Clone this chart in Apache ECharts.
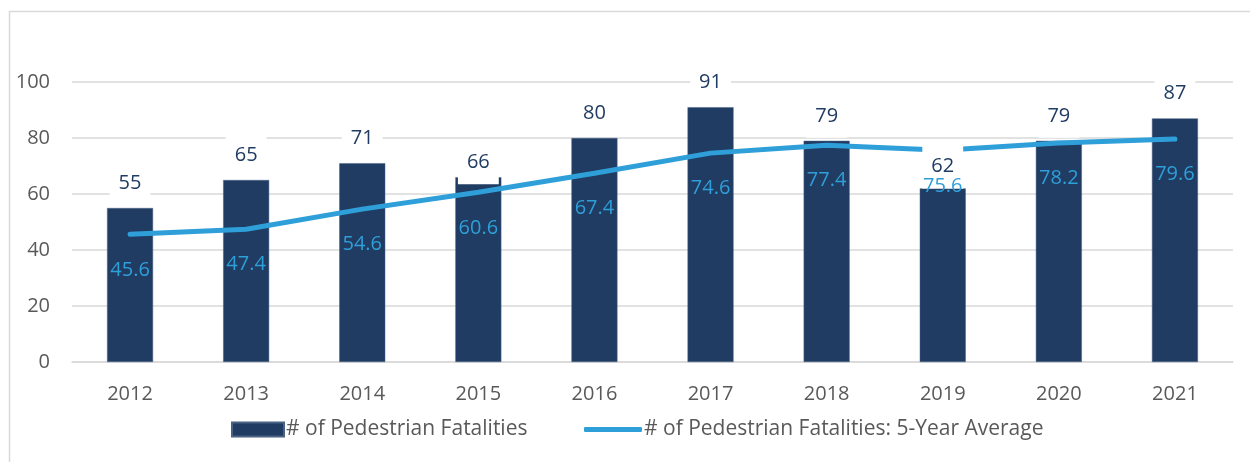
<!DOCTYPE html>
<html>
<head>
<meta charset="utf-8">
<script src="https://cdn.jsdelivr.net/npm/echarts@6/dist/echarts.min.js"></script>
<style>
  html, body { margin: 0; padding: 0; background: #fff; }
  #chart { width: 1250px; height: 462px; }
</style>
</head>
<body>
<div id="chart"></div>
<script>
var years = ['2012', '2013', '2014', '2015', '2016', '2017', '2018', '2019', '2020', '2021'];
var fatalities = [55, 65, 71, 66, 80, 91, 79, 62, 79, 87];
var fiveYearAvg = [45.6, 47.4, 54.6, 60.6, 67.4, 74.6, 77.4, 75.6, 78.2, 79.6];
var yTicks = [0, 20, 40, 60, 80, 100];

var FONT = '"Open Sans", sans-serif';
var NAVY = '#203c63';
var BLUE = '#2e9fd8';
var GREY = '#595959';
var BAR_NAME = '# of Pedestrian Fatalities';
var LINE_NAME = '# of Pedestrian Fatalities: 5-Year Average';

// labels that sit lower than the default (Excel nudged them)
var labelNudge = { '2015': 10, '2019': 3 };
var barLabelData = fatalities.map(function (v, i) {
  var dy = labelNudge[years[i]] || 0;
  return dy ? { value: v, label: { offset: [0, dy] } } : v;
});

var c = echarts.init(document.getElementById('chart'), null, { renderer: 'canvas' });
c.setOption({
  animation: false,
  textStyle: { fontFamily: FONT },
  graphic: [{
    type: 'rect', left: 7, top: 9, silent: true, z: -1,
    shape: { width: 1260, height: 470 },
    style: { fill: 'none', stroke: '#d9d9d9', lineWidth: 1.5 }
  }],
  grid: { left: 72, right: 17, top: 82, bottom: 100 },
  legend: [{
    data: [{ name: BAR_NAME, icon: 'rect' }],
    left: 226, top: 414, itemWidth: 52, itemHeight: 14,
    textStyle: { color: GREY, fontSize: 21, fontFamily: FONT, padding: [0, 0, 0, -3] }
  }, {
    data: [{ name: LINE_NAME, icon: 'roundRect' }],
    left: 579, top: 414, itemWidth: 58, itemHeight: 5,
    textStyle: { color: GREY, fontSize: 21, fontFamily: FONT, padding: [0, 0, 0, -3] }
  }],
  xAxis: {
    type: 'category', data: years,
    axisLine: { lineStyle: { color: '#d9d9d9', width: 1.5 } },
    axisTick: { show: false },
    axisLabel: { color: GREY, fontSize: 20, margin: 22 }
  },
  yAxis: {
    type: 'value', min: yTicks[0], max: yTicks[yTicks.length - 1], interval: 20,
    axisLine: { show: false }, axisTick: { show: false },
    splitLine: { lineStyle: { color: '#d9d9d9', width: 1.5 } },
    axisLabel: { color: GREY, fontSize: 20, margin: 22 }
  },
  series: [
    {
      name: BAR_NAME, type: 'bar', data: fatalities, z: 2,
      barWidth: 46,
      itemStyle: { color: NAVY, borderColor: '#4a6384', borderWidth: 0.5 }
    },
    {
      name: LINE_NAME, type: 'line', data: fiveYearAvg, z: 3,
      symbol: 'none', lineStyle: { color: BLUE, width: 5, cap: 'round' },
      itemStyle: { color: BLUE }
    },
    {
      // bar value labels with white boxes, drawn over the line
      name: 'barLabels', type: 'bar', data: barLabelData, z: 4, barWidth: 46, barGap: '-100%',
      itemStyle: { color: 'rgba(0,0,0,0)' }, silent: true,
      label: {
        show: true, position: 'top', distance: 3, color: NAVY, fontSize: 20, fontFamily: FONT,
        lineHeight: 24, backgroundColor: '#fff', padding: [10, 9]
      }
    },
    {
      // average value labels, on top of everything
      name: 'lineLabels', type: 'line', data: fiveYearAvg, z: 5, symbol: 'circle', symbolSize: 1,
      lineStyle: { color: 'rgba(0,0,0,0)' }, itemStyle: { color: 'rgba(0,0,0,0)' }, silent: true,
      label: { show: true, position: 'bottom', distance: 25, color: BLUE, fontSize: 20, fontFamily: FONT }
    }
  ]
});
</script>
</body>
</html>
